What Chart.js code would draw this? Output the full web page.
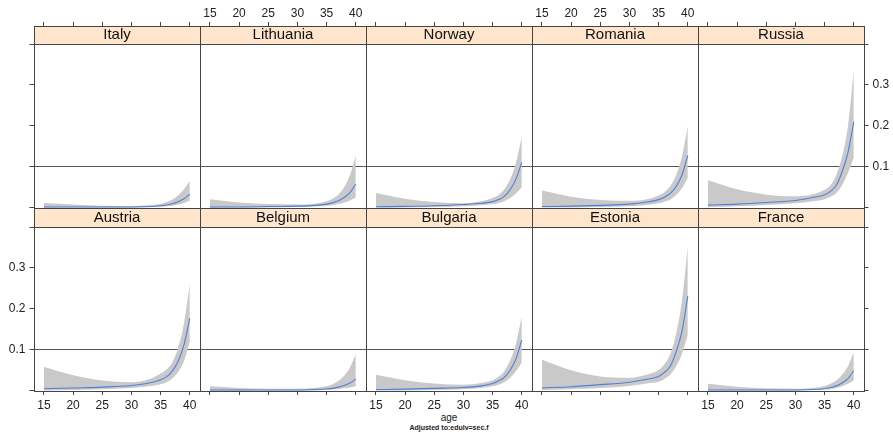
<!DOCTYPE html>
<html lang="en">
<head>
  <meta charset="UTF-8">
  <title>age effect by country</title>
  <script src="https://cdn.jsdelivr.net/npm/chart.js"></script>
  <style>
    body {
      margin: 0;
      background: #fff;
      font-family: 'Liberation Sans', Arial, sans-serif;
    }
    #wrap {
      position: relative;
      width: 893px;
      height: 432px;
      overflow: hidden;
    }
    #wrap canvas {
      position: absolute;
      left: 0;
      top: 0;
    }
    .lab {
      position: absolute;
      left: 349px;
      width: 200px;
      text-align: center;
      color: #222;
      white-space: nowrap;
    }
  </style>
</head>
<body>
<div id="wrap">
  <div class="lab" style="top:412px;font-size:10px;">age</div>
  <div class="lab" style="top:424px;font-size:7px;font-weight:bold;">Adjusted to:edulv=sec.f</div>
</div>

<script>
const ages = [15, 20, 25, 30, 33, 35, 36, 37, 38, 39, 40];
const xTicks = [15, 20, 25, 30, 35, 40];
const yTicks = [0.1, 0.2, 0.3];
const yTickMarks = [0, 0.1, 0.2, 0.3, 0.4];
const topRow = ['Italy', 'Lithuania', 'Norway', 'Romania', 'Russia'];
const bottomRow = ['Austria', 'Belgium', 'Bulgaria', 'Estonia', 'France'];

const fitItaly = [0.002, 0.002, 0.002, 0.002, 0.003, 0.005, 0.007, 0.010, 0.015, 0.022, 0.033];
const loItaly  = [0.0003, 0.0005, 0.0008, 0.001, 0.0015, 0.0025, 0.0035, 0.005, 0.008, 0.012, 0.018];
const hiItaly  = [0.012, 0.008, 0.005, 0.004, 0.006, 0.010, 0.014, 0.020, 0.030, 0.045, 0.066];

const fitLithuania = [0.002, 0.002, 0.003, 0.004, 0.006, 0.009, 0.012, 0.017, 0.025, 0.037, 0.058];
const loLithuania  = [0.0003, 0.0005, 0.001, 0.002, 0.003, 0.005, 0.007, 0.009, 0.013, 0.018, 0.026];
const hiLithuania  = [0.021, 0.013, 0.009, 0.008, 0.010, 0.016, 0.022, 0.032, 0.050, 0.080, 0.128];

const fitNorway = [0.0025, 0.0035, 0.005, 0.008, 0.011, 0.015, 0.020, 0.028, 0.044, 0.070, 0.111];
const loNorway  = [0.0005, 0.001, 0.002, 0.004, 0.006, 0.009, 0.012, 0.016, 0.024, 0.035, 0.050];
const hiNorway  = [0.036, 0.022, 0.014, 0.011, 0.016, 0.024, 0.031, 0.045, 0.070, 0.110, 0.174];

const fitRomania = [0.003, 0.004, 0.006, 0.009, 0.014, 0.020, 0.026, 0.035, 0.052, 0.080, 0.128];
const loRomania  = [0.0005, 0.001, 0.002, 0.004, 0.007, 0.011, 0.015, 0.020, 0.031, 0.048, 0.073];
const hiRomania  = [0.042, 0.027, 0.019, 0.017, 0.021, 0.030, 0.038, 0.053, 0.080, 0.125, 0.200];

const fitRussia = [0.0066, 0.009, 0.013, 0.018, 0.025, 0.032, 0.040, 0.055, 0.088, 0.135, 0.210];
const loRussia  = [0.002, 0.004, 0.007, 0.011, 0.016, 0.021, 0.027, 0.036, 0.055, 0.085, 0.122];
const hiRussia  = [0.067, 0.045, 0.032, 0.028, 0.033, 0.044, 0.055, 0.080, 0.125, 0.200, 0.335];

const fitAustria = [0.005, 0.007, 0.009, 0.013, 0.019, 0.027, 0.034, 0.048, 0.072, 0.112, 0.177];
const loAustria  = [0.001, 0.002, 0.004, 0.007, 0.011, 0.016, 0.021, 0.030, 0.046, 0.072, 0.120];
const hiAustria  = [0.058, 0.038, 0.025, 0.021, 0.028, 0.042, 0.052, 0.070, 0.105, 0.165, 0.260];

const fitBelgium = [0.002, 0.002, 0.002, 0.002, 0.003, 0.0045, 0.006, 0.009, 0.013, 0.019, 0.028];
const loBelgium  = [0.0002, 0.0003, 0.0005, 0.0008, 0.001, 0.002, 0.003, 0.004, 0.006, 0.008, 0.011];
const hiBelgium  = [0.011, 0.007, 0.005, 0.005, 0.007, 0.011, 0.016, 0.024, 0.037, 0.057, 0.089];

const fitBulgaria = [0.003, 0.004, 0.006, 0.008, 0.012, 0.018, 0.024, 0.033, 0.050, 0.078, 0.124];
const loBulgaria  = [0.0005, 0.001, 0.002, 0.004, 0.007, 0.011, 0.015, 0.021, 0.032, 0.048, 0.070];
const hiBulgaria  = [0.039, 0.026, 0.018, 0.015, 0.019, 0.026, 0.034, 0.048, 0.074, 0.115, 0.182];

const fitEstonia = [0.007, 0.010, 0.015, 0.021, 0.028, 0.035, 0.045, 0.060, 0.095, 0.145, 0.231];
const loEstonia  = [0.002, 0.004, 0.007, 0.012, 0.018, 0.022, 0.029, 0.040, 0.060, 0.090, 0.136];
const hiEstonia  = [0.076, 0.050, 0.035, 0.032, 0.040, 0.051, 0.065, 0.090, 0.140, 0.220, 0.353];

const fitFrance = [0.002, 0.002, 0.002, 0.002, 0.003, 0.005, 0.008, 0.012, 0.019, 0.030, 0.049];
const loFrance  = [0.0005, 0.0005, 0.001, 0.001, 0.002, 0.003, 0.004, 0.007, 0.011, 0.017, 0.026];
const hiFrance  = [0.017, 0.010, 0.006, 0.005, 0.007, 0.012, 0.017, 0.025, 0.039, 0.060, 0.094];

const series = {
  Italy: [fitItaly, loItaly, hiItaly],
  Lithuania: [fitLithuania, loLithuania, hiLithuania],
  Norway: [fitNorway, loNorway, hiNorway],
  Romania: [fitRomania, loRomania, hiRomania],
  Russia: [fitRussia, loRussia, hiRussia],
  Austria: [fitAustria, loAustria, hiAustria],
  Belgium: [fitBelgium, loBelgium, hiBelgium],
  Bulgaria: [fitBulgaria, loBulgaria, hiBulgaria],
  Estonia: [fitEstonia, loEstonia, hiEstonia],
  France: [fitFrance, loFrance, hiFrance]
};

const W = 893, H = 432;
const FONT = "'Liberation Sans', Arial, sans-serif";
const LINE = '#444';

// strip background + panel frames
const panelFrame = {
  id: 'panelFrame',
  beforeDraw(chart) {
    const s = chart.scales.strip;
    const ctx = chart.ctx;
    ctx.save();
    ctx.fillStyle = '#ffe5cc';
    ctx.fillRect(s.left, s.top, s.width, s.height);
    ctx.restore();
  },
  afterDraw(chart) {
    const a = chart.chartArea;
    const s = chart.scales.strip;
    const ctx = chart.ctx;
    ctx.save();
    ctx.strokeStyle = LINE;
    ctx.lineWidth = 1;
    ctx.strokeRect(Math.round(a.left) + 0.5, Math.round(a.top) + 0.5, Math.round(a.width), Math.round(a.height));
    ctx.strokeRect(Math.round(s.left) + 0.5, Math.round(s.top) + 0.5, Math.round(s.width), Math.round(s.height));
    ctx.restore();
  }
};

function pts(vals) {
  return ages.map((a, i) => ({ x: a, y: vals[i] }));
}

function makePanel(name, row, col) {
  const [fit, lo, hi] = series[name];
  const left = 34 + col * 166;
  const right = left + 166;
  const plotTop = row === 0 ? 44 : 227;
  const plotBottom = row === 0 ? 208 : 391;
  const stripTop = row === 0 ? 26 : 208;

  const yRight = col === 4;
  const yWidth = col === 0 ? left : (yRight ? W - right : 0);
  const showYTicks = col === 0 || col === 4;
  const xLabels = row === 0 ? col % 2 === 1 : col % 2 === 0;
  const yLabels = (row === 1 && col === 0) || (row === 0 && col === 4);

  const canvas = document.createElement('canvas');
  canvas.width = W;
  canvas.height = H;
  document.getElementById('wrap').appendChild(canvas);

  new Chart(canvas.getContext('2d'), {
    type: 'line',
    data: {
      datasets: [
        {
          data: pts(hi),
          fill: '+1',
          backgroundColor: '#c9c9c9',
          borderColor: 'rgba(0,0,0,0)',
          borderWidth: 0,
          pointRadius: 0,
          cubicInterpolationMode: 'monotone',
          order: 1
        },
        {
          data: pts(lo),
          fill: false,
          borderColor: 'rgba(0,0,0,0)',
          borderWidth: 0,
          pointRadius: 0,
          cubicInterpolationMode: 'monotone',
          order: 1
        },
        {
          data: pts(fit),
          fill: false,
          borderColor: '#4f7fd9',
          borderWidth: 1.1,
          pointRadius: 0,
          cubicInterpolationMode: 'monotone',
          order: 0
        }
      ]
    },
    options: {
      responsive: false,
      animation: false,
      events: [],
      layout: {
        padding: {
          left: col === 0 ? 0 : left,
          right: yRight ? 0 : W - right,
          top: row === 0 ? 0 : stripTop,
          bottom: row === 0 ? H - plotBottom : 0
        }
      },
      plugins: {
        legend: { display: false },
        tooltip: { enabled: false }
      },
      scales: {
        x: {
          type: 'linear',
          position: row === 0 ? 'top' : 'bottom',
          weight: 1,
          min: 13.3,
          max: 41.75,
          bounds: 'data',
          afterBuildTicks: s => { s.ticks = xTicks.map(v => ({ value: v })); },
          afterFit: s => { s.height = row === 0 ? stripTop : H - plotBottom; },
          border: { display: false },
          grid: { drawOnChartArea: false, drawTicks: true, tickLength: 4, color: LINE },
          ticks: {
            display: xLabels,
            autoSkip: false,
            maxRotation: 0,
            padding: row === 0 ? 1 : 3,
            color: '#222',
            font: { family: FONT, size: 12 }
          }
        },
        strip: {
          type: 'linear',
          axis: 'x',
          position: 'top',
          weight: 0,
          min: 0,
          max: 1,
          afterFit: s => { s.height = plotTop - stripTop; },
          border: { display: false },
          grid: { display: false },
          ticks: { display: false },
          title: {
            display: true,
            text: name,
            padding: 0,
            color: '#111',
            font: { family: FONT, size: 15, lineHeight: (plotTop - stripTop) / 15 }
          }
        },
        y: {
          type: 'linear',
          position: yRight ? 'right' : 'left',
          min: -0.0005,
          max: 0.4,
          bounds: 'data',
          afterBuildTicks: s => { s.ticks = yTickMarks.map(v => ({ value: v })); },
          afterFit: s => { s.width = yWidth; },
          border: { display: false },
          grid: {
            drawOnChartArea: true,
            drawTicks: showYTicks,
            tickLength: 4.5,
            tickColor: LINE,
            color: c => (c.tick && c.tick.value === 0.1 ? '#555' : 'rgba(0,0,0,0)')
          },
          ticks: {
            display: yLabels,
            padding: 4,
            color: '#222',
            font: { family: FONT, size: 12 },
            callback: v => (yTicks.includes(v) ? v : '')
          }
        }
      }
    },
    plugins: [panelFrame]
  });
}

topRow.forEach((name, c) => makePanel(name, 0, c));
bottomRow.forEach((name, c) => makePanel(name, 1, c));
</script>
</body>
</html>
